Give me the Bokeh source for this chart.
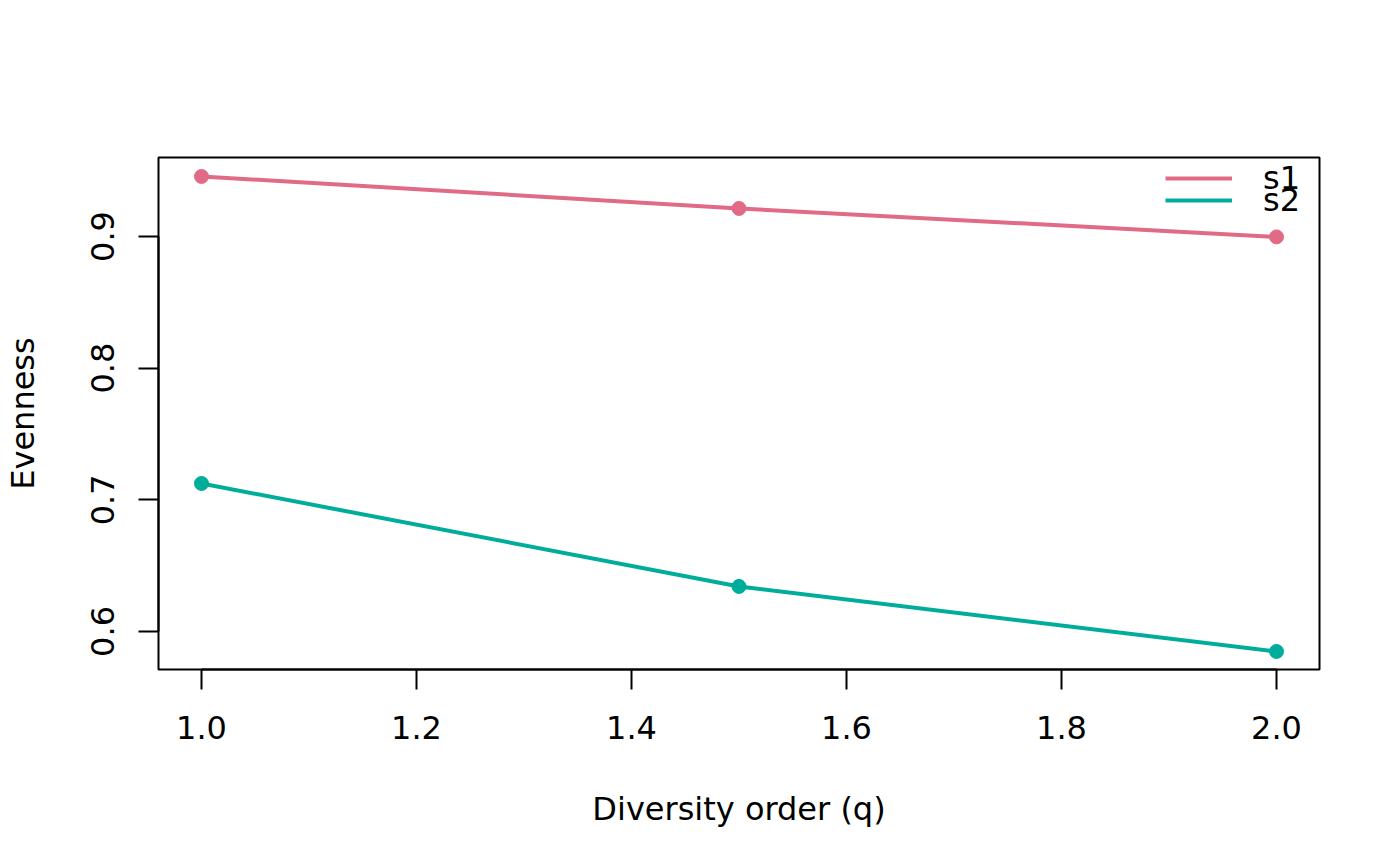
from bokeh.plotting import figure
from bokeh.models import Range1d, FixedTicker, PrintfTickFormatter, Legend, LegendItem
from bokeh.embed import file_html
from bokeh.resources import INLINE

q = [1.0, 1.5, 2.0]
s1 = [0.9456, 0.9213, 0.8997]
s2 = [0.7124, 0.6342, 0.5848]
series_names = ["s1", "s2"]
colors = ["#E16A86", "#00AD9A"]
x_ticks = [1.0, 1.2, 1.4, 1.6, 1.8, 2.0]
y_ticks = [0.6, 0.7, 0.8, 0.9]

FONT = "DejaVu Sans"
FS = "32px"

p = figure(width=1384, height=850, output_backend="svg", toolbar_location=None,
           x_range=Range1d(0.96, 2.04), y_range=Range1d(0.5711, 0.96),
           min_border_left=157, min_border_right=65, min_border_top=157, min_border_bottom=181)
p.grid.visible = False
p.background_fill_color = "white"
p.border_fill_color = "white"
p.outline_line_color = "black"
p.outline_line_width = 2

legend_y = [472, 450]
for name, ys, col, ly in zip(series_names, [s1, s2], colors, legend_y):
    r = p.line(q, ys, line_color=col, line_width=4)
    p.scatter(q, ys, size=14, fill_color=col, line_color=col)
    lg = Legend(items=[LegendItem(label=name, renderers=[r])], location=(1007, ly))
    lg.border_line_color = None
    lg.background_fill_alpha = 0
    lg.label_text_font = FONT
    lg.label_text_font_size = FS
    lg.label_text_color = "black"
    lg.glyph_width = 67
    lg.glyph_height = 22
    lg.label_height = 22
    lg.label_standoff = 31
    lg.padding = 0
    lg.margin = 0
    p.add_layout(lg)

for ax in [p.xaxis[0], p.yaxis[0]]:
    ax.axis_line_width = 2
    ax.major_tick_line_width = 2
    ax.major_tick_out = 20
    ax.major_tick_in = 0
    ax.minor_tick_out = 0
    ax.minor_tick_in = 0
    ax.major_label_text_font = FONT
    ax.major_label_text_font_size = FS
    ax.major_label_text_color = "black"
    ax.axis_label_text_font = FONT
    ax.axis_label_text_font_size = FS
    ax.axis_label_text_font_style = "normal"
    ax.axis_label_text_color = "black"
    ax.formatter = PrintfTickFormatter(format="%.1f")

p.xaxis[0].ticker = FixedTicker(ticks=x_ticks)
p.xaxis[0].bounds = (1.0, 2.0)
p.xaxis[0].axis_label = "Diversity order (q)"
p.xaxis[0].major_label_standoff = 26
p.xaxis[0].axis_label_standoff = 48

p.yaxis[0].ticker = FixedTicker(ticks=y_ticks)
p.yaxis[0].bounds = (0.6, 0.9)
p.yaxis[0].axis_label = "Evenness"
p.yaxis[0].major_label_orientation = "vertical"
p.yaxis[0].major_label_standoff = 24
p.yaxis[0].axis_label_standoff = 47

open("out.html", "w").write(file_html(p, INLINE))
